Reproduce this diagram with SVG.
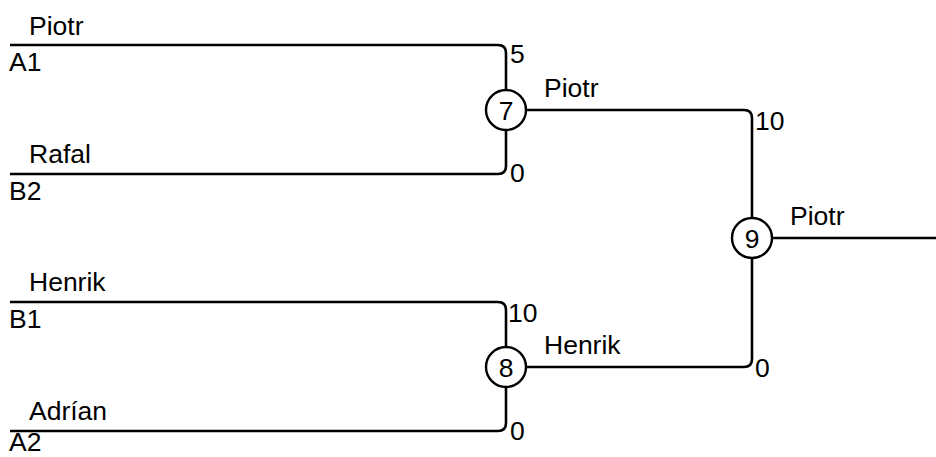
<svg xmlns="http://www.w3.org/2000/svg" width="936" height="457" viewBox="0 0 936 457">
<style>
.ln{fill:none;stroke:#000;stroke-width:2.6}
.nd{fill:#fff;stroke:#000;stroke-width:2.4}
text{font-family:"Liberation Sans",Arial,sans-serif;font-size:26.5px;fill:#000}
.c{text-anchor:middle}
</style>
<rect width="936" height="457" fill="#fff"/>
<g id="connectors">
<path class="ln" d="M10,45 H498 Q506,45 506,53 V90"/>
<path class="ln" d="M10,174 H498 Q506,174 506,166 V130"/>
<path class="ln" d="M10,302 H498 Q506,302 506,310 V347"/>
<path class="ln" d="M10,431 H498 Q506,431 506,423 V387"/>
<path class="ln" d="M526,110 H744 Q752,110 752,118 V218"/>
<path class="ln" d="M526,367 H744 Q752,367 752,359 V258"/>
<path class="ln" d="M772,238 H936"/>
</g>
<g id="labels">
<text x="29" y="35">Piotr</text>
<text x="9" y="71">A1</text>
<text x="29" y="163">Rafal</text>
<text x="9" y="200">B2</text>
<text x="29" y="291">Henrik</text>
<text x="9" y="328">B1</text>
<text x="29" y="420">Adrían</text>
<text x="9" y="451">A2</text>
<text x="510" y="63">5</text>
<text x="510" y="182">0</text>
<text x="508" y="322">10</text>
<text x="510" y="440">0</text>
<text x="544" y="97">Piotr</text>
<text x="544" y="354">Henrik</text>
<text x="755" y="130">10</text>
<text x="755" y="377">0</text>
<text x="790" y="225">Piotr</text>
</g>
<g id="node7"><circle class="nd" cx="506" cy="110" r="20"/><text class="c" x="506" y="119.5">7</text></g>
<g id="node8"><circle class="nd" cx="506" cy="367" r="20"/><text class="c" x="506" y="376.5">8</text></g>
<g id="node9"><circle class="nd" cx="752" cy="238" r="20"/><text class="c" x="752" y="247.5">9</text></g>
</svg>
